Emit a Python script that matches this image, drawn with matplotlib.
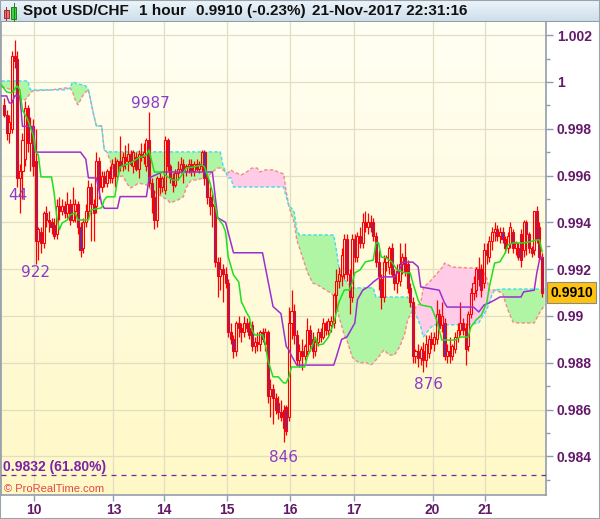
import numpy as np
import matplotlib
matplotlib.use('Agg')
import matplotlib.pyplot as plt
import matplotlib.transforms as mtransforms
from matplotlib.patches import Rectangle

plt.rcParams['font.family'] = ['Liberation Sans', 'DejaVu Sans']

# USD/CHF hourly bars, prices in pips (1 pip = 0.0001)
opens = [
    9990, 9986, 9978, 9980, 10011, 10010, 9959, 9962, 9967, 9989,
    9974, 9981, 9966, 9932, 9936, 9931, 9944, 9941, 9940, 9939,
    9935, 9947, 9945, 9947, 9944, 9948, 9941, 9945, 9948, 9938,
    9929, 9940, 9945, 9955, 9948, 9947, 9966, 9955, 9960, 9957,
    9962, 9959, 9965, 9960, 9966, 9964, 9968, 9966, 9969, 9964,
    9968, 9963, 9969, 9968, 9964, 9975, 9957, 9951, 9941, 9959,
    9955, 9954, 9975, 9964, 9959, 9956, 9961, 9963, 9965, 9962,
    9964, 9965, 9962, 9965, 9963, 9964, 9970, 9959, 9951, 9948,
    9947, 9923, 9917, 9920, 9918, 9914, 9893, 9890, 9885, 9897,
    9895, 9893, 9897, 9895, 9896, 9887, 9889, 9888, 9893, 9888,
    9893, 9866, 9869, 9865, 9863, 9859, 9860, 9861, 9857, 9897,
    9902, 9892, 9881, 9885, 9883, 9885, 9894, 9890, 9885, 9889,
    9893, 9891, 9897, 9894, 9896, 9897, 9909, 9915, 9917, 9918,
    9933, 9918, 9908, 9933, 9925, 9934, 9931, 9940, 9938, 9940,
    9940, 9934, 9923, 9916, 9908, 9923, 9921, 9929, 9918, 9914,
    9915, 9922, 9925, 9922, 9912, 9906, 9883, 9885, 9882, 9885,
    9881, 9884, 9890, 9888, 9890, 9901, 9896, 9897, 9883, 9885,
    9883, 9886, 9891, 9894, 9897, 9895, 9887, 9901, 9910, 9911,
    9920, 9920, 9914, 9928, 9925, 9932, 9936, 9937, 9934, 9936,
    9933, 9929, 9931, 9936, 9929, 9929, 9935, 9928, 9940, 9935,
    9929, 9928, 9945, 9938, 9925,
]
highs = [
    9993, 9988, 9986, 10013, 10018, 10013, 9965, 9978, 9992, 9990,
    9985, 9984, 9980, 9938, 9938, 9945, 9947, 9945, 9942, 9942,
    9950, 9951, 9950, 9949, 9953, 9950, 9955, 9950, 9949, 9940,
    9942, 9948, 9958, 9957, 9950, 9970, 9968, 9962, 9962, 9963,
    9964, 9967, 9968, 9967, 9977, 9970, 9973, 9974, 9971, 9971,
    9970, 9971, 9974, 9974, 9976, 9987, 9959, 9954, 9960, 9961,
    9960, 9977, 9976, 9965, 9961, 9963, 9966, 9968, 9967, 9965,
    9967, 9967, 9966, 9967, 9966, 9971, 9971, 9960, 9955, 9952,
    9948, 9925, 9925, 9922, 9921, 9916, 9897, 9892, 9898, 9900,
    9897, 9900, 9899, 9898, 9898, 9891, 9893, 9894, 9895, 9895,
    9894, 9873, 9871, 9867, 9866, 9864, 9862, 9862, 9904, 9911,
    9905, 9894, 9888, 9890, 9888, 9899, 9896, 9893, 9891, 9895,
    9895, 9899, 9898, 9899, 9900, 9910, 9920, 9921, 9929, 9935,
    9935, 9920, 9935, 9935, 9936, 9938, 9944, 9945, 9944, 9943,
    9942, 9936, 9928, 9918, 9926, 9926, 9930, 9931, 9920, 9922,
    9931, 9927, 9931, 9924, 9914, 9908, 9886, 9888, 9887, 9889,
    9892, 9892, 9893, 9893, 9907, 9903, 9906, 9899, 9888, 9891,
    9888, 9893, 9897, 9906, 9899, 9897, 9902, 9912, 9917, 9921,
    9925, 9922, 9931, 9931, 9934, 9938, 9940, 9939, 9938, 9938,
    9934, 9936, 9940, 9937, 9932, 9931, 9937, 9941, 9941, 9936,
    9930, 9945, 9947, 9940, 9927,
]
lows = [
    9985, 9975, 9974, 9978, 10006, 9955, 9944, 9950, 9964, 9970,
    9962, 9960, 9922, 9924, 9927, 9929, 9938, 9936, 9935, 9933,
    9933, 9941, 9943, 9942, 9942, 9939, 9940, 9940, 9935, 9925,
    9927, 9938, 9942, 9932, 9932, 9944, 9950, 9953, 9955, 9955,
    9957, 9957, 9955, 9958, 9962, 9962, 9963, 9962, 9964, 9961,
    9962, 9959, 9966, 9965, 9962, 9955, 9944, 9937, 9938, 9952,
    9953, 9952, 9962, 9957, 9953, 9955, 9958, 9961, 9957, 9960,
    9961, 9960, 9960, 9962, 9961, 9962, 9956, 9948, 9943, 9938,
    9921, 9908, 9911, 9906, 9912, 9891, 9888, 9882, 9883, 9891,
    9889, 9891, 9893, 9890, 9885, 9884, 9885, 9885, 9889, 9885,
    9863, 9857, 9854, 9858, 9856, 9855, 9846, 9849, 9855, 9890,
    9888, 9879, 9878, 9877, 9881, 9883, 9885, 9882, 9883, 9887,
    9889, 9890, 9892, 9892, 9893, 9895, 9902, 9912, 9913, 9916,
    9915, 9901, 9906, 9923, 9923, 9929, 9929, 9936, 9935, 9936,
    9932, 9921, 9911, 9903, 9906, 9919, 9918, 9917, 9911, 9910,
    9913, 9918, 9917, 9910, 9904, 9880, 9880, 9878, 9879, 9876,
    9878, 9882, 9886, 9885, 9888, 9894, 9893, 9881, 9880, 9880,
    9881, 9884, 9889, 9892, 9892, 9879, 9885, 9899, 9907, 9908,
    9913, 9908, 9912, 9922, 9923, 9928, 9932, 9932, 9931, 9931,
    9927, 9927, 9929, 9927, 9926, 9924, 9921, 9925, 9926, 9927,
    9925, 9926, 9931, 9924, 9908,
]
closes = [
    9986, 9978, 9983, 10011, 10009, 9959, 9962, 9975, 9989, 9974,
    9981, 9964, 9932, 9937, 9931, 9944, 9941, 9940, 9938, 9934,
    9947, 9945, 9947, 9944, 9948, 9941, 9948, 9948, 9938, 9928,
    9940, 9945, 9955, 9948, 9944, 9966, 9955, 9960, 9957, 9962,
    9959, 9965, 9960, 9966, 9964, 9968, 9966, 9969, 9965, 9970,
    9963, 9969, 9968, 9970, 9975, 9957, 9951, 9941, 9959, 9955,
    9959, 9975, 9964, 9959, 9956, 9961, 9963, 9965, 9962, 9964,
    9965, 9962, 9965, 9963, 9965, 9970, 9959, 9951, 9947, 9947,
    9923, 9917, 9920, 9918, 9914, 9893, 9890, 9885, 9897, 9895,
    9893, 9897, 9895, 9892, 9887, 9889, 9888, 9893, 9890, 9893,
    9866, 9869, 9865, 9860, 9859, 9857, 9852, 9851, 9897, 9902,
    9892, 9881, 9885, 9883, 9887, 9894, 9888, 9885, 9889, 9893,
    9891, 9897, 9894, 9898, 9898, 9909, 9915, 9918, 9926, 9933,
    9918, 9908, 9933, 9925, 9934, 9931, 9940, 9938, 9940, 9938,
    9934, 9923, 9917, 9908, 9923, 9925, 9929, 9918, 9914, 9919,
    9922, 9925, 9919, 9912, 9906, 9883, 9885, 9882, 9886, 9881,
    9888, 9890, 9888, 9891, 9901, 9895, 9900, 9883, 9885, 9883,
    9887, 9891, 9894, 9897, 9894, 9886, 9901, 9910, 9914, 9920,
    9916, 9911, 9928, 9926, 9932, 9936, 9937, 9934, 9936, 9933,
    9929, 9934, 9938, 9929, 9931, 9925, 9924, 9940, 9935, 9929,
    9927, 9945, 9933, 9925, 9910,
]

# Ichimoku lines (bar index, pips)
tenkan_idx = [
    -1, 1, 3, 5, 6, 7, 9, 11, 12, 13, 14, 18, 19, 20, 21, 22, 24, 25, 27, 28,
    32, 33, 37, 38, 39, 42, 43, 44, 48, 51, 54, 55, 56, 57, 60, 62, 64, 66, 68, 69,
    72, 75, 76, 78, 79, 81, 83, 84, 85, 87, 89, 90, 91, 92, 93, 94, 95, 98, 99, 100,
    102, 104, 106, 107, 108, 109, 114, 115, 117, 118, 119, 121, 123, 125, 126, 127, 129, 131, 132, 133,
    135, 137, 140, 141, 142, 143, 145, 147, 149, 152, 154, 155, 157, 158, 162, 164, 166, 171, 173, 176,
    177, 179, 181, 183, 184, 186, 188, 190, 191, 193, 197, 199, 202, 203, 204,
]
tenkan_pips = [
    9998.7, 9995.7, 9995.3, 9998.3, 9996.6, 9988, 9983.8, 9977.4, 9970.1, 9968.8,
    9959.4, 9959.4, 9952.6, 9942.3, 9936.8, 9939.7, 9941, 9943.2, 9944, 9941,
    9941, 9945.3, 9946.2, 9949.6, 9950.9, 9950.9, 9958.1, 9963.7, 9965.4, 9967.5,
    9968.8, 9970.9, 9966, 9961.5, 9961.5, 9959.4, 9958.1, 9958.1, 9961.1, 9963.2,
    9963.7, 9964.5, 9963.7, 9957.3, 9953, 9941.9, 9938.9, 9935.9, 9925.2, 9917.5,
    9914.5, 9906, 9903.8, 9901.3, 9899.5, 9894, 9891.9, 9891.9, 9888.5, 9881.2,
    9874, 9874, 9871.4, 9871.4, 9874, 9878.2, 9878.2, 9882.5, 9887.6, 9891,
    9887.6, 9888, 9891, 9897, 9901.3, 9906, 9911.1, 9911.1, 9914.1, 9918.4,
    9919.7, 9923.1, 9923.9, 9931.2, 9931.2, 9925.2, 9924.8, 9923.1, 9919.7, 9918.4,
    9918.4, 9914.1, 9906.8, 9904.7, 9903.8, 9898.3, 9889.7, 9889.7, 9891, 9891,
    9895.3, 9898.3, 9900.4, 9905.6, 9912.4, 9922.6, 9923.1, 9926.9, 9930.3, 9931.2,
    9931.2, 9931.6, 9932.5, 9932.5, 9927.4,
]
kijun_idx = [
    -1, 1, 2, 3, 4, 6, 7, 11, 12, 29, 31, 32, 35, 37, 38, 43, 44, 54, 55, 60,
    79, 81, 84, 87, 98, 102, 105, 106, 107, 108, 109, 111, 125, 126, 128, 130, 133, 134, 136, 138,
    140, 142, 144, 148, 150, 151, 155, 157, 158, 165, 167, 168, 178, 180, 182, 184, 186, 188, 196, 197,
    201, 202, 203, 204,
]
kijun_pips = [
    9994, 9994, 9991, 9991, 9994, 9994, 9981, 9981, 9970, 9970,
    9967, 9959, 9959, 9948, 9946, 9946, 9951, 9951, 9959, 9961.5,
    9961.5, 9942, 9940, 9927, 9927, 9904, 9901, 9894, 9887, 9885.5,
    9883, 9879, 9879, 9882.5, 9890, 9891, 9897, 9907, 9911, 9912.4,
    9914.5, 9916.2, 9916.7, 9916.7, 9919.7, 9923, 9923, 9921, 9912.4, 9911,
    9905.6, 9903.8, 9903.8, 9901.7, 9904.7, 9905.6, 9906.8, 9908.1, 9908.1, 9910.3,
    9911, 9918.4, 9923.9, 9925.2,
]

# cloud: leading span A and leading span B (bar index, pips)
cloud_idx = [
    -1, 3, 5, 6, 8, 9, 10, 11, 18, 23, 25, 26, 27, 28, 30, 31, 32, 34, 35, 37,
    38, 39, 41, 42, 45, 47, 48, 50, 51, 54, 56, 60, 62, 63, 66, 68, 69, 71, 73, 77,
    79, 81, 82, 83, 84, 85, 86, 87, 88, 90, 92, 94, 96, 97, 99, 102, 104, 106, 107, 108,
    109, 110, 111, 112, 115, 117, 119, 122, 124, 125, 126, 127, 129, 130, 132, 133, 135, 137, 139, 140,
    141, 142, 144, 146, 148, 150, 152, 153, 155, 157, 158, 159, 161, 162, 163, 166, 167, 170, 176, 180,
    181, 183, 184, 185, 186, 189, 191, 193, 195, 201, 203, 205,
]
span_a = [
    10000.4, 10000.4, 10000.4, 10000.4, 10000.4, 10000.4, 9996.6, 9996.6, 9996.6, 9996.6,
    9997.4, 10000, 9999.6, 9999.1, 9998.7, 9998.3, 9996.6, 9985.9, 9981.2, 9981.2,
    9970.9, 9970.1, 9970.1, 9970.1, 9970.1, 9970.1, 9970.1, 9970.1, 9970.1, 9970.1,
    9970.1, 9970.1, 9970.1, 9970.1, 9970.1, 9970.1, 9970.1, 9970.1, 9970.1, 9970.1,
    9970.1, 9970.1, 9970.1, 9964.5, 9961.5, 9959, 9959, 9955.1, 9955.1, 9955.1,
    9955.1, 9955.1, 9955.1, 9955.1, 9955.1, 9955.1, 9955.1, 9955.1, 9951, 9947,
    9946, 9944.4, 9936.8, 9934.6, 9934.6, 9934.6, 9934.6, 9934.6, 9934.6, 9934.6,
    9928.2, 9920.5, 9915.4, 9914.5, 9912, 9912, 9912, 9912, 9912, 9912,
    9908.1, 9908.1, 9908.1, 9908.1, 9908.1, 9908.1, 9908.1, 9908.1, 9903.4, 9898.3,
    9895.3, 9891, 9894, 9895.3, 9896.2, 9896.2, 9896.2, 9896.2, 9896.2, 9897,
    9899.1, 9902.6, 9905.6, 9909, 9911.1, 9911.5, 9911.5, 9911.5, 9911.5, 9911.5,
    9911.5, 9911.5,
]
span_b = [
    9997.9, 9996.6, 9993.6, 9992.3, 9992.3, 9993.6, 9995.3, 9996.2, 9996.6, 9997.4,
    9997.4, 9995.7, 9992.3, 9990.2, 9994.4, 9995.7, 9996.6, 9985.9, 9981.2, 9981.2,
    9970.9, 9970.1, 9964, 9959.4, 9959.8, 9956, 9954.7, 9956, 9956.8, 9956,
    9953.8, 9950.9, 9949.6, 9948.3, 9949.6, 9950.9, 9954.7, 9958.1, 9958.1, 9959.4,
    9961.5, 9963.2, 9963.2, 9962.4, 9961.5, 9961.1, 9962.4, 9961.5, 9961.1, 9960.3,
    9961.5, 9963.2, 9963.2, 9961.5, 9962.4, 9962.4, 9961.5, 9960.7, 9953, 9947,
    9943.2, 9940.2, 9932.5, 9929.1, 9918.8, 9914.1, 9913.2, 9911.1, 9909.8, 9908.5,
    9906.8, 9899.6, 9891.9, 9889.7, 9882.5, 9881.2, 9879.9, 9880.3, 9879, 9879.9,
    9881.2, 9882.5, 9885.5, 9883.3, 9883.3, 9886.8, 9892.7, 9898.3, 9902.6, 9904.7,
    9905.6, 9912.4, 9914.1, 9915.4, 9916.7, 9920.5, 9922.6, 9920.9, 9920.5, 9920.5,
    9920.5, 9916.2, 9911.1, 9911.1, 9911.1, 9909.8, 9902.6, 9897.4, 9897, 9897,
    9901.3, 9904.7,
]

day_ticks = [11.5, 41.5, 60.5, 84.5, 108.5, 132.5, 162.5, 182.5]
day_labels = ['10', '13', '14', '15', '16', '17', '20', '21']
price_ticks = [0.984, 0.986, 0.988, 0.990, 0.992, 0.994, 0.996, 0.998, 1.000, 1.002]
price_labels = ['0.984', '0.986', '0.988', '0.99', '0.992', '0.994', '0.996', '0.998', '1', '1.002']

fib_level = 0.9832
last_price = 0.9910

o = np.array(opens) / 1e4
h = np.array(highs) / 1e4
l = np.array(lows) / 1e4
c = np.array(closes) / 1e4
x = np.arange(len(c))

fig = plt.figure(figsize=(6, 5.19), dpi=100)
fig.patch.set_facecolor('white')
ax = fig.add_axes([0.0017, 24 / 519, 544.5 / 600, 473 / 519])

# pale yellow vertical gradient behind the plot
t = np.linspace(0, 1, 256)[:, None, None]
top_col = np.array([1.0, 1.0, 0.955])
bot_col = np.array([1.0, 0.972, 0.775])
ax.imshow(top_col + (bot_col - top_col) * t, extent=[0, 1, 0, 1],
          transform=ax.transAxes, aspect='auto', zorder=0)

# cloud
ci = np.array(cloud_idx)
sa = np.array(span_a) / 1e4
sb = np.array(span_b) / 1e4
ax.fill_between(ci, sa, sb, where=sa >= sb, interpolate=True, color='#b0f5a4', lw=0, zorder=1)
ax.fill_between(ci, sa, sb, where=sa < sb, interpolate=True, color='#ffcbe6', lw=0, zorder=1)
ax.plot(ci, sb, color='#f08c8c', lw=1.0, ls=(0, (2.5, 1.5)), zorder=1.5)
ax.plot(ci, sa, color='#40dcef', lw=1.0, ls=(0, (2.5, 1.5)), zorder=1.6)

# candles: hollow up bars, filled down bars, red outline
body_lo = np.minimum(o, c)
body_hi = np.maximum(o, c)
ax.vlines(x, body_hi, h, color='#ff0000', lw=0.9, zorder=2)
ax.vlines(x, l, body_lo, color='#ff0000', lw=0.9, zorder=2)
faces = ['none' if up else '#6b2c9e' for up in (c >= o)]
ax.bar(x, np.maximum(body_hi - body_lo, 0.00003), bottom=body_lo, width=0.78,
       color=faces, edgecolor='#ff0000', linewidth=0.8, zorder=2.2)

# conversion / base lines
ax.plot(kijun_idx, np.array(kijun_pips) / 1e4, color='#9b30d0', lw=1.1, zorder=3)
ax.plot(tenkan_idx, np.array(tenkan_pips) / 1e4, color='#1ee01e', lw=1.1, zorder=3.1)

# fibonacci retracement level
ax.axhline(fib_level, color='#7a22a8', lw=0.9, ls=(0, (4, 4)), zorder=3)
blend = mtransforms.blended_transform_factory(ax.transAxes, ax.transData)
ax.annotate('0.9832 (61.80%)', xy=(0, fib_level), xycoords=blend,
            xytext=(1.5, 1.0), textcoords='offset points', ha='left', va='bottom',
            fontsize=10, fontweight='bold', color='#7a22a8', zorder=4)

# swing labels
swing_color = '#8a3cc8'
swing_kw = dict(textcoords='offset points', ha='center', va='center',
                fontsize=11, color=swing_color, family='DejaVu Sans', zorder=4)
ax.annotate('9987', xy=(55, h[55]), xytext=(1, 6.5), **swing_kw)
ax.annotate('922', xy=(12, l[12]), xytext=(0, -6), **swing_kw)
ax.annotate('846', xy=(106, l[106]), xytext=(0, -11), **swing_kw)
ax.annotate('876', xy=(159, l[159]), xytext=(3.6, -8.6), **swing_kw)
ax.text(5.3, 0.99513, '44', ha='center', va='center', fontsize=11,
        color=swing_color, family='DejaVu Sans', zorder=4)

ax.text(3 / 545, 0.013, '\u00a9 ProRealTime.com', transform=ax.transAxes,
        ha='left', va='center', fontsize=8, color='#e04848', zorder=4)

# axes
ax.set_xlim(-1.14, 205.3)
ax.set_ylim(0.98235, 1.00256)
ax.yaxis.tick_right()
ax.set_yticks(price_ticks)
ax.set_yticklabels(price_labels)
ax.set_yticks(np.array(price_ticks) - 0.001, minor=True)
ax.set_xticks(day_ticks)
ax.set_xticklabels(day_labels)
axis_grey = '#939daa'
label_col = '#63186a'
ax.tick_params(axis='y', which='major', length=5, width=1, color=axis_grey,
               pad=3, labelsize=10, labelcolor=label_col)
ax.tick_params(axis='y', which='minor', length=3, width=1, color=axis_grey)
ax.tick_params(axis='x', which='major', length=4, width=1, color=axis_grey,
               pad=2, labelsize=10, labelcolor=label_col)
for lbl in ax.get_xticklabels() + ax.get_yticklabels():
    lbl.set_fontweight('bold')
ax.set_axisbelow(True)
ax.grid(True, which='major', color='#e2dec2', lw=0.9)
for side in ['right', 'bottom', 'left']:
    ax.spines[side].set_color(axis_grey)
    ax.spines[side].set_linewidth(1.2)
ax.spines['top'].set_visible(False)

# last price marker on the price axis
ax.text(1.0085, last_price, '0.9910', transform=blend, ha='left', va='center',
        fontsize=10, fontweight='bold', color='black', clip_on=False, zorder=5,
        bbox=dict(boxstyle='square,pad=0.22', fc='#ffc20e', ec='#8a8a8a', lw=0.8))

# title bar
tb = fig.add_axes([0, 497 / 519, 1, 22 / 519])
tg = np.linspace(0, 1, 64)[:, None, None]
tb_top = np.array([0.93, 0.96, 0.98])
tb_bot = np.array([0.80, 0.87, 0.92])
tb.imshow(tb_top + (tb_bot - tb_top) * tg, extent=[0, 1, 0, 1], aspect='auto')
tb.set_xlim(0, 1)
tb.set_ylim(0, 1)
tb.set_xticks([])
tb.set_yticks([])
for side in tb.spines:
    tb.spines[side].set_visible(False)
tb.axhline(0, color='#8f9ba6', lw=1.5)

# small candle icon
tb.add_patch(Rectangle((3.5 / 600, 0.18), 5 / 600, 0.36, fc='#f07070', ec='#a03030', lw=0.7))
tb.plot([6 / 600, 6 / 600], [0.08, 0.66], color='#a03030', lw=0.7)
tb.add_patch(Rectangle((11 / 600, 0.15), 5 / 600, 0.55, fc='#40d040', ec='#208020', lw=0.7))
tb.plot([13.5 / 600, 13.5 / 600], [0.05, 0.85], color='#208020', lw=0.7)

title_y = 1 - 11 / 519
for px, txt in [(23, 'Spot USD/CHF'), (139, '1 hour'), (196, '0.9910 (-0.23%)'),
                (312, '21-Nov-2017 22:31:16')]:
    fig.text(px / 600, title_y, txt, ha='left', va='center', fontsize=11,
             fontweight='bold', color='#111111')

fig.patches.append(Rectangle((0, 0), 1, 1, transform=fig.transFigure, fill=False,
                             ec='#9aa4ae', lw=1.5))

fig.savefig('out.png', dpi=100)
